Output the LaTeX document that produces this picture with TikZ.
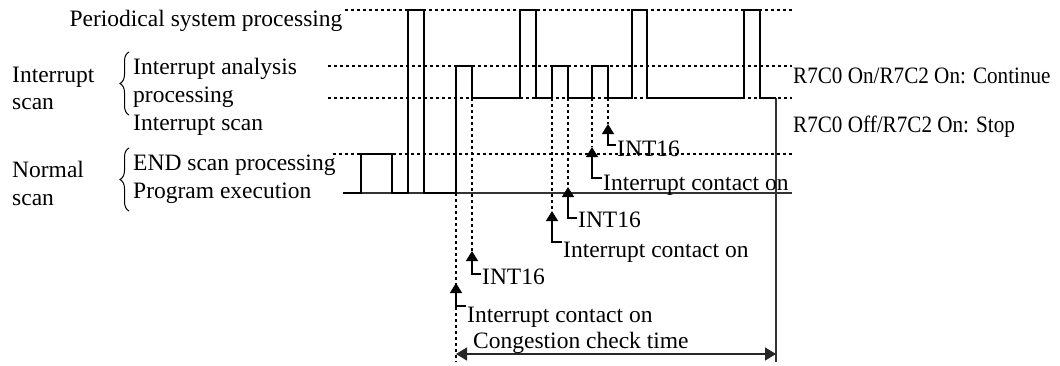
\documentclass[tikz,border=0pt]{standalone}
\usepackage{fontspec}
\setmainfont{Liberation Serif}
\usetikzlibrary{arrows.meta,decorations.pathreplacing}
\begin{document}
\begin{tikzpicture}[x=1pt,y=1pt,
  lbl/.style={inner sep=0pt, anchor=base west, font=\fontsize{23.5}{28}\selectfont},
  lblc/.style={inner sep=0pt, anchor=base, font=\fontsize{23.5}{28}\selectfont},
  wave/.style={line width=2pt, line join=miter},
  guide/.style={line width=1.4pt, dash pattern=on 2.5pt off 3.5pt},
  thinline/.style={line width=1.2pt, black!80},
  leader/.style={line width=1.2pt, -{Triangle[length=10pt,width=12pt]}},
  dim/.style={line width=1.3pt, black!85, {Triangle[length=11pt,width=13pt]}-{Triangle[length=11pt,width=13pt]}},
  bracestyle/.style={line width=1pt, decorate, decoration={brace,amplitude=9pt}}]
\useasboundingbox (0,0) rectangle (1060,-365);

% left labels
\node[lblc] (per) at (206,-26) {Periodical system processing};
\node[lbl] (ia1) at (133,-74) {Interrupt analysis};
\node[lbl] (ia2) at (133,-102) {processing};
\node[lbl] (isc) at (133,-130) {Interrupt scan};
\node[lbl] (isg1) at (12,-82) {Interrupt};
\node[lbl] (isg2) at (12,-109) {scan};
\node[lbl] (end) at (133,-170) {END scan processing};
\node[lbl] (prg) at (133,-198) {Program execution};
\node[lbl] (nsg1) at (12,-177) {Normal};
\node[lbl] (nsg2) at (12,-205) {scan};
\draw[bracestyle] (129,-115) -- (129,-52);
\draw[bracestyle] (129,-211) -- (129,-148);

% right labels
\node[lbl] (cont) at (793,-83) {\scalebox{0.9}[1]{R7C0 On/R7C2 On: Continue}};
\node[lbl] (stop) at (793,-132) {\scalebox{0.9}[1]{R7C0 Off/R7C2 On: Stop}};

% guide lines
\draw[guide] (345,-10) -- (792,-10);
\draw[guide] (328,-66) -- (792,-66);
\draw[guide] (328,-98) -- (792,-98);
\draw[guide] (333,-154) -- (792,-154);
\draw[thinline] (343,-193) -- (792,-193);

% coordinates
\coordinate (a456) at (456,-193);
\coordinate (a472) at (472,-98);
\coordinate (a552) at (552,-98);
\coordinate (a568) at (568,-98);
\coordinate (a592) at (592,-98);
\coordinate (a608) at (608,-98);
\coordinate (b456) at (456,-362);
\coordinate (t456) at (456,-283);
\coordinate (t472) at (472,-251);
\coordinate (t552) at (552,-211);
\coordinate (t568) at (568,-187);
\coordinate (t592) at (592,-147);
\coordinate (t608) at (608,-124);
\coordinate (v776a) at (776,-98);
\coordinate (v776b) at (776,-362);
\coordinate (d1) at (456,-354);
\coordinate (d2) at (776,-354);

% vertical dotted lines
\draw[guide] (a456) -- (b456);
\draw[guide] (a472) -- (t472);
\draw[guide] (a552) -- (t552);
\draw[guide] (a568) -- (t568);
\draw[guide] (a592) -- (t592);
\draw[guide] (a608) -- (t608);
\draw[thinline] (v776a) -- (v776b);

% waveform
\draw[wave] (343,-193) -- (361,-193) -- (361,-154) -- (392,-154) -- (392,-193)
  -- (408,-193) -- (408,-10) -- (424,-10) -- (424,-193) -- (456,-193)
  -- (456,-66) -- (472,-66) -- (472,-98) -- (520,-98) -- (520,-10)
  -- (536,-10) -- (536,-98) -- (552,-98) -- (552,-66) -- (568,-66)
  -- (568,-98) -- (592,-98) -- (592,-66) -- (608,-66) -- (608,-98)
  -- (632,-98) -- (632,-10) -- (647,-10) -- (647,-98) -- (744,-98)
  -- (744,-10) -- (760,-10) -- (760,-98) -- (776,-98);

% event labels
\node[lbl] (i608) at (617,-156) {INT16};
\node[lbl] (c592) at (603,-190) {Interrupt contact on};
\node[lbl] (i568) at (578,-227) {INT16};
\node[lbl] (c552) at (563,-257) {Interrupt contact on};
\node[lbl] (i472) at (482,-284) {INT16};
\node[lbl] (c456) at (467,-322) {Interrupt contact on};
\node[lbl] (cong) at (473,-348) {Congestion check time};

\draw[leader] ([xshift=-1pt,yshift=11pt]i608.base west) -| (t608);
\draw[leader] ([xshift=-1pt,yshift=12pt]c592.base west) -| (t592);
\draw[leader] ([xshift=-1pt,yshift=9pt]i568.base west) -| (t568);
\draw[leader] ([xshift=-1pt,yshift=15pt]c552.base west) -| (t552);
\draw[leader] ([xshift=-1pt,yshift=10pt]i472.base west) -| (t472);
\draw[leader] ([xshift=-1pt,yshift=16pt]c456.base west) -| (t456);

\draw[dim] (d1) -- (d2);
\end{tikzpicture}
\end{document}
